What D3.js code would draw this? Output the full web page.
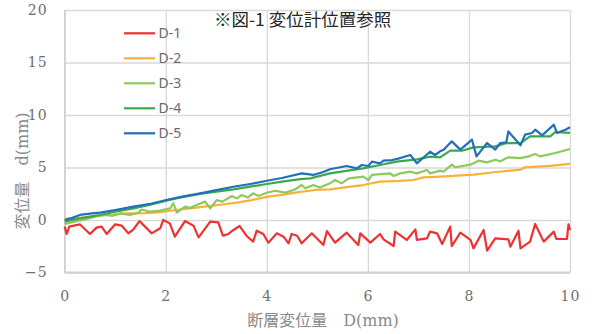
<!DOCTYPE html>
<html>
<head>
<meta charset="utf-8">
<script src="https://cdn.jsdelivr.net/npm/d3@7"></script>
<style>
  html, body { margin: 0; padding: 0; background: #fff; }
  svg { display: block; }
</style>
</head>
<body>
<svg id="chart" width="592" height="334"></svg>
<script>
// Displacement readings d (mm) for each gauge against fault displacement D (mm), as [D, d].
const seriesNames = ["D-1", "D-2", "D-3", "D-4", "D-5"];
const seriesColors = ["#ee3131", "#f8b13a", "#8dc95c", "#3aa84c", "#2170b9"];

const d1 = [[0,-0.63],[0.04,-1.33],[0.09,-0.63],[0.3,-0.41],[0.5,-1.33],[0.63,-0.73],[0.73,-0.63],[0.83,-1.33],[1.0,-0.41],[1.13,-0.54],[1.26,-1.27],[1.36,-0.89],[1.48,-0.1],[1.59,-0.63],[1.72,-1.27],[1.89,-0.79],[1.95,0.0],[2.08,-0.32],[2.18,-1.59],[2.38,-0.1],[2.55,-0.54],[2.65,-1.65],[2.88,-0.16],[3.04,-0.22],[3.13,-1.49],[3.24,-1.33],[3.34,-0.95],[3.46,-0.57],[3.6,-1.52],[3.73,-2.06],[3.8,-1.02],[3.93,-1.33],[4.03,-2.16],[4.2,-1.27],[4.33,-1.59],[4.43,-2.22],[4.49,-1.33],[4.6,-1.5],[4.69,-2.22],[4.89,-1.27],[5.12,-2.38],[5.19,-1.05],[5.35,-2.16],[5.58,-1.21],[5.81,-2.38],[5.85,-1.27],[6.05,-2.16],[6.24,-1.33],[6.31,-1.84],[6.51,-2.48],[6.54,-1.11],[6.77,-1.9],[6.94,-0.89],[6.97,-1.9],[7.17,-1.75],[7.23,-1.11],[7.37,-1.27],[7.47,-2.29],[7.63,-0.63],[7.66,-2.48],[7.83,-1.21],[8.03,-1.9],[8.09,-2.7],[8.29,-0.95],[8.36,-2.92],[8.52,-1.75],[8.65,-1.8],[8.78,-1.84],[8.82,-2.54],[8.98,-1.02],[9.02,-2.7],[9.21,-2.06],[9.31,-0.38],[9.48,-2.06],[9.68,-1.11],[9.73,-1.81],[9.94,-1.81],[9.97,-0.41],[10,-0.95]];

const d2 = [[0,0.1],[0.3,0.2],[0.57,0.38],[0.9,0.5],[1.22,0.63],[1.6,0.65],[1.89,0.75],[2.2,0.95],[2.48,1.11],[2.8,1.3],[3.04,1.43],[3.4,1.65],[3.7,1.9],[4.03,2.22],[4.3,2.4],[4.56,2.6],[4.96,2.86],[5.25,2.92],[5.66,3.17],[5.91,3.33],[6.24,3.65],[6.64,3.72],[6.9,3.81],[7.1,4.06],[7.43,4.13],[8.09,4.32],[8.5,4.55],[9.02,4.79],[9.11,5.02],[9.6,5.15],[10,5.35]];

const d3v = [[0,-0.38],[0.2,-0.16],[0.4,0.06],[0.6,0.32],[0.8,0.48],[0.95,0.4],[1.1,0.63],[1.29,0.48],[1.46,0.7],[1.52,1.0],[1.69,0.79],[1.89,0.89],[2.09,1.11],[2.15,1.6],[2.22,0.7],[2.38,1.27],[2.48,1.15],[2.61,1.43],[2.78,1.75],[2.88,1.11],[3.01,1.9],[3.12,1.75],[3.31,2.29],[3.41,2.06],[3.5,2.38],[3.63,2.15],[3.73,2.54],[3.83,2.29],[4.0,2.6],[4.16,2.79],[4.36,2.6],[4.56,2.92],[4.69,3.33],[4.76,3.02],[4.92,3.33],[5.05,3.1],[5.25,3.49],[5.35,3.81],[5.48,3.49],[5.62,3.97],[5.91,4.13],[6.01,3.81],[6.08,4.29],[6.44,4.44],[6.51,4.19],[6.64,4.44],[6.84,4.6],[6.97,4.44],[7.17,4.76],[7.23,4.44],[7.43,4.7],[7.5,4.6],[7.66,5.27],[7.73,5.02],[8.03,5.27],[8.19,5.65],[8.36,5.49],[8.52,5.74],[8.62,5.59],[8.78,5.97],[9.02,5.9],[9.18,6.06],[9.31,6.29],[9.41,6.06],[9.71,6.38],[10,6.76]];

const d4 = [[0,-0.16],[0.3,0.15],[0.7,0.48],[1.0,0.8],[1.36,1.11],[1.7,1.45],[2.01,1.84],[2.3,2.15],[2.68,2.48],[3.0,2.7],[3.34,2.92],[3.7,3.2],[4.0,3.43],[4.3,3.65],[4.66,3.9],[4.86,3.97],[5.25,4.44],[5.6,4.7],[5.91,4.92],[6.24,5.24],[6.57,5.56],[6.97,5.78],[7.23,6.03],[7.43,5.97],[7.63,6.6],[7.86,6.6],[8.09,6.92],[8.52,7.01],[8.75,7.33],[9.02,7.33],[9.21,7.97],[9.61,7.97],[9.71,8.38],[10,8.29]];

const d5 = [[0,0.0],[0.15,0.2],[0.3,0.48],[0.5,0.6],[0.7,0.7],[1.0,0.95],[1.36,1.27],[1.7,1.55],[2.01,1.9],[2.3,2.2],[2.68,2.54],[3.0,2.85],[3.34,3.17],[3.7,3.45],[4.0,3.74],[4.3,4.0],[4.69,4.44],[4.92,4.29],[5.1,4.55],[5.25,4.83],[5.58,5.14],[5.78,4.92],[5.88,5.24],[6.01,5.14],[6.08,5.56],[6.24,5.4],[6.31,5.65],[6.48,5.71],[6.6,5.85],[6.84,6.19],[6.97,5.4],[7.23,6.5],[7.33,6.19],[7.43,6.54],[7.5,6.7],[7.66,7.49],[7.83,6.7],[8.06,7.65],[8.15,6.06],[8.36,7.33],[8.52,6.7],[8.62,7.33],[8.74,7.4],[8.78,8.44],[9.02,7.11],[9.11,8.13],[9.25,8.29],[9.31,8.6],[9.45,8.06],[9.68,9.08],[9.74,8.29],[9.91,8.6],[10,8.83]];

const seriesData = [d1, d2, d3v, d4, d5];

const xTicks = [0, 2, 4, 6, 8, 10];
const yTicks = [-5, 0, 5, 10, 15, 20];
const titleText = "※図-1 変位計位置参照";
const xTitle = "断層変位量　D(mm)";
const yTitle = "変位量　d(mm)";

const svg = d3.select("#chart");
const plotLeft = 64.7, plotRight = 570, plotTop = 10, plotBottom = 272.5;

const x = d3.scaleLinear().domain([0, 10]).range([plotLeft, plotRight]);
const y = d3.scaleLinear().domain([-5, 20]).range([plotBottom, plotTop]);

const gridColor = "#d9d9d9";
const labelColor = "#6e6e6e";
const tickFont = "'DejaVu Serif', serif";

// vertical gridlines
svg.append("g")
  .attr("transform", `translate(0,${plotBottom})`)
  .call(d3.axisBottom(x).tickValues(xTicks).tickSize(-(plotBottom - plotTop)).tickFormat(""))
  .call(g => g.select(".domain").remove())
  .call(g => g.selectAll("line").attr("stroke", gridColor).attr("stroke-width", 1.3));

// horizontal gridlines
svg.append("g")
  .attr("transform", `translate(${plotLeft},0)`)
  .call(d3.axisLeft(y).tickValues(yTicks).tickSize(-(plotRight - plotLeft)).tickFormat(""))
  .call(g => g.select(".domain").remove())
  .call(g => g.selectAll("line").attr("stroke", gridColor).attr("stroke-width", 1.3));

// axis lines
svg.append("line").attr("x1", plotLeft).attr("x2", plotLeft).attr("y1", plotTop).attr("y2", plotBottom)
  .attr("stroke", "#d0d0d0").attr("stroke-width", 1.5);
svg.append("line").attr("x1", plotLeft).attr("x2", plotRight).attr("y1", plotBottom).attr("y2", plotBottom)
  .attr("stroke", "#d0d0d0").attr("stroke-width", 2);

// tick labels
const yAxis = svg.append("g")
  .attr("transform", `translate(${plotLeft},0)`)
  .call(d3.axisLeft(y).tickValues(yTicks).tickSize(0).tickPadding(17));
yAxis.select(".domain").remove();
yAxis.selectAll("text")
  .attr("fill", labelColor).style("font-family", tickFont).style("font-size", "14px")
  .style("letter-spacing", "1px");

const xAxis = svg.append("g")
  .attr("transform", `translate(0,${plotBottom})`)
  .call(d3.axisBottom(x).tickValues(xTicks).tickSize(0).tickPadding(19));
xAxis.select(".domain").remove();
xAxis.selectAll("text")
  .attr("fill", labelColor).style("font-family", tickFont).style("font-size", "14px")
  .style("letter-spacing", "1px");

// series lines
const line = d3.line().x(d => x(d[0])).y(d => y(d[1]));
svg.append("g").selectAll("path")
  .data(seriesData)
  .join("path")
  .attr("d", line)
  .attr("fill", "none")
  .attr("stroke", (d, i) => seriesColors[i])
  .attr("stroke-width", 2.2)
  .attr("stroke-linejoin", "round");

// legend
const legend = svg.append("g");
seriesNames.forEach((name, i) => {
  const ly = 33.3 + i * 25;
  legend.append("line")
    .attr("x1", 124).attr("x2", 155).attr("y1", ly).attr("y2", ly)
    .attr("stroke", seriesColors[i]).attr("stroke-width", 2.2);
  legend.append("text")
    .attr("x", 158.5).attr("y", ly).attr("dy", "0.36em")
    .attr("fill", "#6b6b6b")
    .style("font-family", "'Noto Sans', sans-serif").style("font-size", "14px")
    .text(name);
});

// title
svg.append("text")
  .attr("x", 214).attr("y", 26)
  .attr("fill", "#262626")
  .style("font-family", "'Noto Sans CJK JP', sans-serif")
  .style("font-size", "17.5px")
  .style("font-weight", "400")
  .text(titleText);

// axis titles
svg.append("text")
  .attr("x", 323).attr("y", 326)
  .attr("text-anchor", "middle")
  .attr("fill", "#8a8a8a")
  .style("font-family", "'DejaVu Serif', 'Noto Sans CJK JP', serif")
  .style("font-size", "16px")
  .text(xTitle);

svg.append("text")
  .attr("transform", "translate(28,171) rotate(-90)")
  .attr("text-anchor", "middle")
  .attr("fill", "#8a8a8a")
  .style("font-family", "'DejaVu Serif', 'Noto Sans CJK JP', serif")
  .style("font-size", "16px")
  .text(yTitle);
</script>
</body>
</html>
